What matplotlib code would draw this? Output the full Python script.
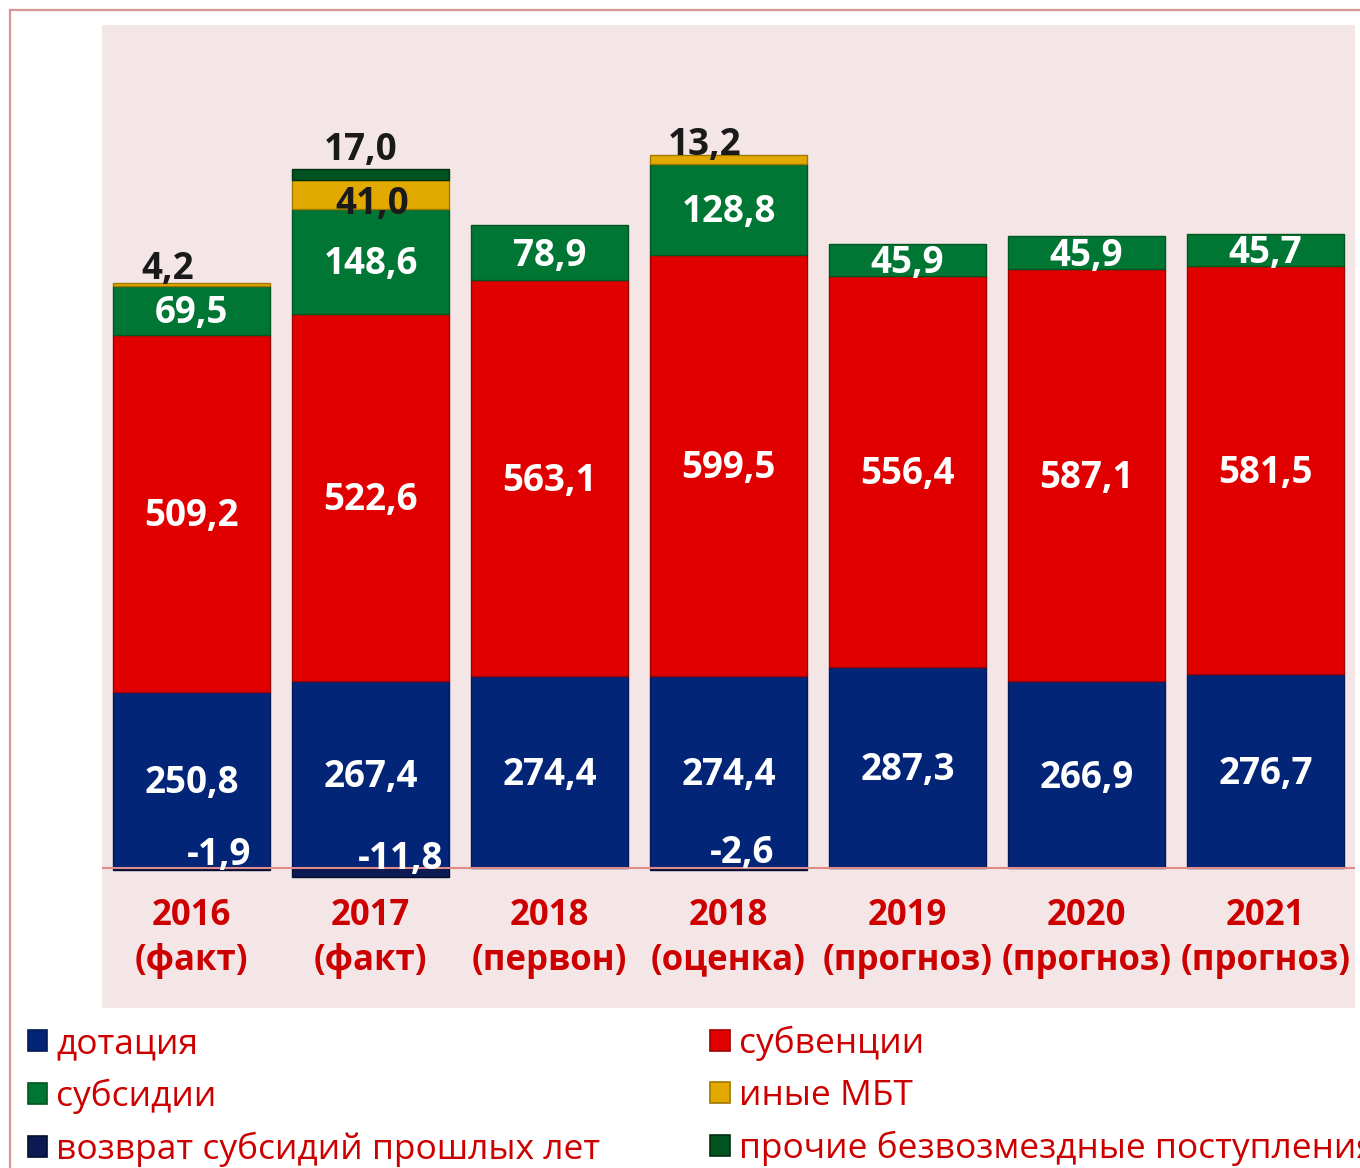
import matplotlib
matplotlib.use("Agg")
import matplotlib.pyplot as plt
from matplotlib.patches import Patch
from matplotlib.lines import Line2D
from matplotlib.transforms import offset_copy
import numpy as np

# ---------------- data ----------------
categories = ["2016\n(факт)", "2017\n(факт)", "2018\n(первон)", "2018\n(оценка)",
              "2019\n(прогноз)", "2020\n(прогноз)", "2021\n(прогноз)"]
dotation   = [250.8, 267.4, 274.4, 274.4, 287.3, 266.9, 276.7]
subvention = [509.2, 522.6, 563.1, 599.5, 556.4, 587.1, 581.5]
subsidies  = [69.5, 148.6, 78.9, 128.8, 45.9, 45.9, 45.7]
other_mbt  = [4.2, 41.0, 0.0, 13.2, 0.0, 0.0, 0.0]
other_free = [0.0, 17.0, 0.0, 0.0, 0.0, 0.0, 0.0]
refund     = [-1.9, -11.8, 0.0, -2.6, 0.0, 0.0, 0.0]

series_names = ["дотация", "субвенции", "субсидии", "иные МБТ",
                "возврат субсидий прошлых лет", "прочие безвозмездные поступления"]

# ---------------- style ----------------
C_DOT = "#022578"
C_SUBV = "#E00000"
C_SUBS = "#007634"
C_MBT = "#E2AA00"
C_FREE = "#00531F"
C_REF = "#0B1A52"
EDGE = {C_DOT: "#021A55", C_SUBV: "#A00000", C_SUBS: "#00561F",
        C_MBT: "#A07800", C_FREE: "#003010", C_REF: "#050D30"}
RED_TXT = "#CC0000"
BG = "#F4E6E7"
BFONT = ["Open Sans", "DejaVu Sans"]
LFONT = ["Open Sans", "DejaVu Sans"]

W, H = 1360, 1168
fig = plt.figure(figsize=(W / 100, H / 100), dpi=100)
fig.patch.set_facecolor("white")

ax = fig.add_axes([102 / W, (H - 1008) / H, 1253 / W, (1008 - 25) / H])
ax.set_facecolor(BG)
for s in ax.spines.values():
    s.set_visible(False)

x = np.arange(len(categories))
bw = 0.877

def fmt(v):
    return f"{v:.1f}".replace(".", ",")

ax.bar(x, dotation, bw, color=C_DOT, edgecolor=EDGE[C_DOT], lw=1)
bot = np.array(dotation)
ax.bar(x, subvention, bw, bottom=bot, color=C_SUBV, edgecolor=EDGE[C_SUBV], lw=1)
bot2 = bot + np.array(subvention)
ax.bar(x, subsidies, bw, bottom=bot2, color=C_SUBS, edgecolor=EDGE[C_SUBS], lw=1)
bot3 = bot2 + np.array(subsidies)
mbt_idx = [i for i, v in enumerate(other_mbt) if v > 0]
ax.bar(x[mbt_idx], np.array(other_mbt)[mbt_idx], bw, bottom=bot3[mbt_idx],
       color=C_MBT, edgecolor=EDGE[C_MBT], lw=1)
bot4 = bot3 + np.array(other_mbt)
free_idx = [i for i, v in enumerate(other_free) if v > 0]
ax.bar(x[free_idx], np.array(other_free)[free_idx], bw, bottom=bot4[free_idx],
       color=C_FREE, edgecolor=EDGE[C_FREE], lw=1)
bot5 = bot4 + np.array(other_free)
ref_idx = [i for i, v in enumerate(refund) if v < 0]
ax.bar(x[ref_idx], np.array(refund)[ref_idx], bw, color=C_REF, edgecolor=EDGE[C_REF], lw=1)

ax.axhline(0, color="#E08A8A", lw=1.5, zorder=5)

ax.set_xlim(-0.5, len(categories) - 0.5)
ax.set_ylim(-199, 1201)
ax.set_xticks([])
ax.set_yticks([])

lab_kw = dict(fontsize=26.5, fontweight="bold", family=BFONT, ha="center", va="center", zorder=6)

def otext(xv, yv, s, dx, dy, color, va="center"):
    tr = offset_copy(ax.transData, fig=fig, x=dx, y=dy, units="dots")
    kw = dict(lab_kw)
    kw["va"] = va
    ax.text(xv, yv, s, color=color, transform=tr, **kw)

for i in range(len(categories)):
    otext(x[i], dotation[i] / 2, fmt(dotation[i]), 0, -3, "white")
    otext(x[i], bot[i] + subvention[i] / 2, fmt(subvention[i]), 0, -3, "white")
    otext(x[i], bot2[i] + subsidies[i] / 2, fmt(subsidies[i]), 0, -3, "white")

mbt_dy = {0: -5, 3: -9}
for i in mbt_idx:
    if other_free[i] > 0:
        otext(x[i], bot3[i] + other_mbt[i] / 2, fmt(other_mbt[i]), 2, -9, "#1A1A1A")
    else:
        otext(x[i], bot4[i], fmt(other_mbt[i]), -24, mbt_dy[i], "#1A1A1A", va="bottom")
for i in free_idx:
    otext(x[i], bot5[i], fmt(other_free[i]), -10, 0, "#1A1A1A", va="bottom")
ref_dx = {0: 28, 1: 30, 3: 14}
ref_dy = {0: 13, 1: 9, 3: 15}
for i in ref_idx:
    otext(x[i], 0, fmt(refund[i]), ref_dx[i], ref_dy[i], "white")

for i, c in enumerate(categories):
    ax.text(x[i], -100, c, color=RED_TXT, fontsize=25, fontweight="bold", family=BFONT,
            ha="center", va="center", linespacing=1.3)

fig.add_artist(Line2D([9.5 / W, 9.5 / W], [0, 1 - 9.5 / H], color="#D99694", lw=1.6,
                      transform=fig.transFigure))
fig.add_artist(Line2D([9.5 / W, 1], [1 - 9.5 / H, 1 - 9.5 / H], color="#D99694", lw=1.6,
                      transform=fig.transFigure))

cols = [C_DOT, C_SUBV, C_SUBS, C_MBT, C_REF, C_FREE]
handles = [Patch(facecolor=c, edgecolor=EDGE[c], lw=1.2) for c in cols]
order = [0, 2, 4, 1, 3, 5]
leg = fig.legend([handles[k] for k in order], [series_names[k] for k in order],
                 loc="upper left", bbox_to_anchor=(28 / W, 1 - 1026 / H), ncol=2,
                 frameon=False, prop=dict(family=LFONT, size=25.5),
                 handlelength=0.55, handleheight=0.55, handletextpad=0.25,
                 labelspacing=0.5, columnspacing=3.1, borderaxespad=0, borderpad=0)
for t in leg.get_texts():
    t.set_color(RED_TXT)

fig.savefig("out.png", dpi=100, facecolor="white")
